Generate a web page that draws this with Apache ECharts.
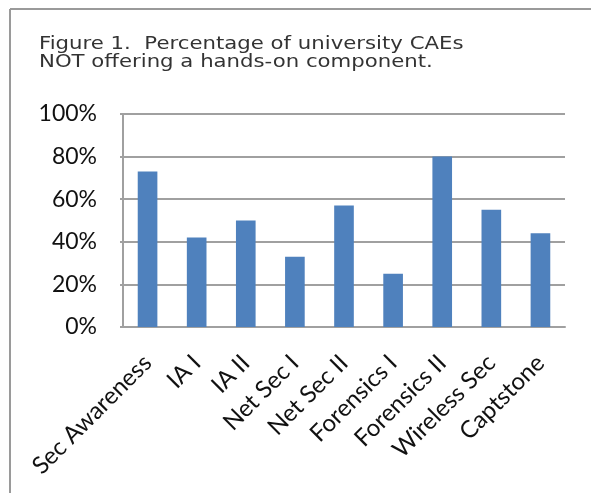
<!DOCTYPE html>
<html>
<head>
<meta charset="utf-8">
<script src="https://cdn.jsdelivr.net/npm/echarts@6/dist/echarts.min.js"></script>
<style>
  html, body { margin: 0; padding: 0; background: #fff; }
  #chart { width: 591px; height: 493px; }
</style>
</head>
<body>
<div id="chart"></div>
<script>
// course categories along the x axis
const categories = ['Sec Awareness', 'IA I', 'IA II', 'Net Sec I', 'Net Sec II',
  'Forensics I', 'Forensics II', 'Wireless Sec', 'Captstone'];
// percent of CAEs not offering hands-on component
const values = [73, 42, 50, 33, 57, 25, 80, 55, 44];
const yTicks = [0, 20, 40, 60, 80, 100];
const titleLines = ['Figure 1.  Percentage of university CAEs',
  'NOT offering a hands-on component.'];

const chart = echarts.init(document.getElementById('chart'));

// title text is drawn a bit wider than the font, like the original
function titleLine(txt, y) {
  return {
    type: 'text',
    x: 39,
    y: y,
    scaleX: 1.18,
    style: {
      text: txt,
      font: '18px "DejaVu Sans"',
      fill: '#333333',
      align: 'left',
      verticalAlign: 'middle'
    }
  };
}

const option = {
  backgroundColor: '#ffffff',
  animation: false,
  graphic: [
    // frame around the figure (top and left edges only visible)
    { type: 'line', shape: { x1: 10, y1: 9, x2: 591, y2: 9 },
      style: { stroke: '#9a9a9a', lineWidth: 2 } },
    { type: 'line', shape: { x1: 10, y1: 9, x2: 10, y2: 493 },
      style: { stroke: '#9a9a9a', lineWidth: 2 } },
    titleLine(titleLines[0], 44.5),
    titleLine(titleLines[1], 62.5)
  ],
  grid: {
    left: 123,
    right: 26,
    top: 114,
    bottom: 166
  },
  xAxis: {
    type: 'category',
    data: categories,
    axisLine: { lineStyle: { color: '#a0a0a0', width: 2 } },
    axisTick: { show: false },
    axisLabel: {
      interval: 0,
      rotate: 45,
      margin: 32,
      fontFamily: 'Lato',
      fontSize: 24,
      color: '#111111'
    }
  },
  yAxis: {
    type: 'value',
    min: yTicks[0],
    max: yTicks[yTicks.length - 1],
    interval: 20,
    axisLine: { show: true, lineStyle: { color: '#a0a0a0', width: 2 } },
    axisTick: { show: true, length: 3, lineStyle: { color: '#a0a0a0', width: 2 } },
    splitLine: { lineStyle: { color: '#a0a0a0', width: 2 } },
    axisLabel: {
      margin: 26,
      fontFamily: 'Lato',
      fontSize: 23,
      color: '#111111',
      formatter: '{value}%'
    }
  },
  series: [{
    type: 'bar',
    data: values,
    barWidth: '40%',
    itemStyle: { color: '#4f81bd' }
  }]
};

chart.setOption(option);
</script>
</body>
</html>
